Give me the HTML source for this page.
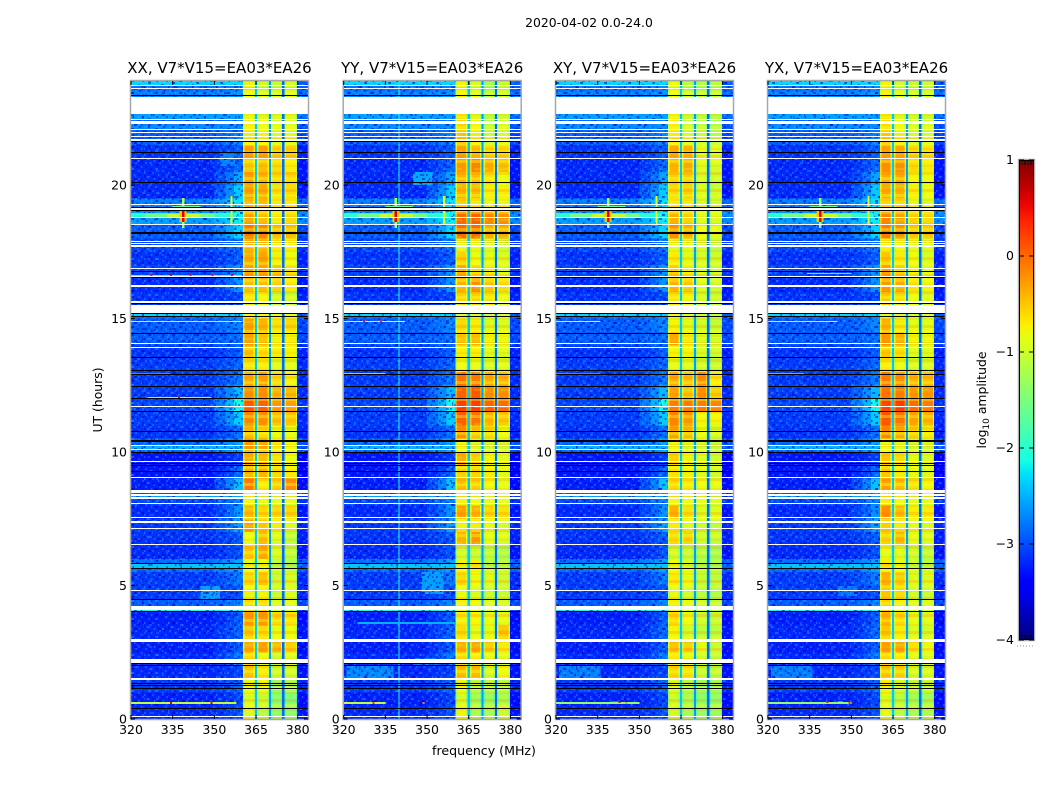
<!DOCTYPE html>
<html lang="en">
<head>
<meta charset="utf-8">
<title>2020-04-02 0.0-24.0</title>
<style>
html,body{margin:0;padding:0;background:#fff;width:1050px;height:800px;overflow:hidden}
svg{display:block}
text{font-family:"DejaVu Sans","Liberation Sans",sans-serif;fill:#000}
</style>
</head>
<body>
<!-- Approximation notes: amplitudes are half-hour averages estimated by eye from the reference.
     Panels share one set of flagged rows, background levels and near-19 h interference marks.
     The speckle and fringe patterns are hand-placed decorative textures, not measured data. -->
<svg id="fig" width="1050" height="800" viewBox="0 0 1050 800" xmlns="http://www.w3.org/2000/svg">
<defs>
<pattern id="speckle" width="24" height="18" patternUnits="userSpaceOnUse">
<g fill="#35b0ff" opacity=".42">
<rect x="1.4" y="0" width="1.4" height="2"/><rect x="7" y="2" width="1.4" height="2"/><rect x="15.4" y="0" width="1.4" height="2"/><rect x="21" y="4" width="1.4" height="2"/><rect x="4.2" y="6" width="1.4" height="2"/><rect x="11.2" y="6" width="2.8" height="2"/><rect x="18.2" y="8" width="1.4" height="2"/><rect x="0" y="10" width="1.4" height="2"/><rect x="8.4" y="10" width="1.4" height="2"/><rect x="14" y="12" width="1.4" height="2"/><rect x="22.4" y="12" width="1.4" height="2"/><rect x="2.8" y="14" width="2.8" height="2"/><rect x="9.8" y="16" width="1.4" height="2"/><rect x="18.2" y="16" width="1.4" height="2"/>
</g>
<g fill="#0000c8" opacity=".6">
<rect x="4.2" y="0" width="1.4" height="2"/><rect x="11.2" y="2" width="2.8" height="2"/><rect x="19.6" y="0" width="1.4" height="2"/><rect x="1.4" y="4" width="1.4" height="2"/><rect x="7" y="6" width="1.4" height="2"/><rect x="16.8" y="4" width="1.4" height="2"/><rect x="22.4" y="8" width="1.4" height="2"/><rect x="4.2" y="10" width="2.8" height="2"/><rect x="12.6" y="8" width="1.4" height="2"/><rect x="18.2" y="12" width="1.4" height="2"/><rect x="0" y="14" width="1.4" height="2"/><rect x="8.4" y="14" width="1.4" height="2"/><rect x="14" y="16" width="2.8" height="2"/><rect x="21" y="16" width="1.4" height="2"/>
</g>
</pattern>
<pattern id="speckle2" width="31" height="22" patternUnits="userSpaceOnUse" patternTransform="translate(5,3)">
<g fill="#0000c8" opacity=".45">
<rect x="2" y="1" width="2.8" height="2"/><rect x="13" y="3" width="1.4" height="4"/><rect x="24" y="1" width="1.4" height="2"/><rect x="7" y="9" width="2.8" height="2"/><rect x="19" y="11" width="2.8" height="2"/><rect x="28" y="7" width="1.4" height="2"/><rect x="1" y="15" width="1.4" height="2"/><rect x="12" y="17" width="4.2" height="2"/><rect x="25" y="18" width="1.4" height="2"/>
</g>
<g fill="#2c9cff" opacity=".38">
<rect x="8" y="3" width="1.4" height="2"/><rect x="20" y="5" width="2.8" height="2"/><rect x="2" y="9" width="1.4" height="2"/><rect x="15" y="13" width="1.4" height="2"/><rect x="27" y="13" width="2.8" height="2"/><rect x="6" y="19" width="1.4" height="2"/>
</g>
</pattern>
<pattern id="fringes" width="26" height="17" patternUnits="userSpaceOnUse">
<rect x="0" y="2" width="26" height="3" fill="#ff6a00" opacity=".2"/>
<rect x="0" y="7" width="26" height="3" fill="#f4ff30" opacity=".38"/>
<rect x="0" y="12" width="26" height="2" fill="#ff8000" opacity=".14"/>
<rect x="6" y="15" width="14" height="2" fill="#b0ff50" opacity=".25"/>
</pattern>
<linearGradient id="jetGrad" x1="0" y1="1" x2="0" y2="0"></linearGradient>
</defs>
<text x="589" y="27" font-size="12.4" text-anchor="middle">2020-04-02 0.0-24.0</text>
<text x="484" y="755" font-size="12.6" text-anchor="middle">frequency (MHz)</text>
<text transform="translate(102,400) rotate(-90)" font-size="12.4" text-anchor="middle">UT (hours)</text>
<g id="panels"></g>
<g id="colorbar"></g>
<text transform="translate(986,400) rotate(-90)" font-size="12.4" text-anchor="middle">log<tspan font-size="9" dy="3">10</tspan><tspan dy="-3"> amplitude</tspan></text>
</svg>
<script>
/* ---- axes ---- */
const freqTicks = [320, 335, 350, 365, 380];
const hourTicks = [0, 5, 10, 15, 20];
const colorTicks = [1, 0, -1, -2, -3, -4];
const titles = ["XX, V7*V15=EA03*EA26", "YY, V7*V15=EA03*EA26", "XY, V7*V15=EA03*EA26", "YX, V7*V15=EA03*EA26"];

/* ---- log10 amplitude of the four receiver bands, one row per half hour from 0 h ---- */
const xxLevels = [
[-.85,-1.1,-1.35,-1.4],[-.9,-1,-1.4,-1.45],[-.8,-.8,-1.3,-1.2],[-.5,-.7,-1,-1],[-.6,-.8,-1,-.9],[-.35,-.3,-.45,-.55],
[-.5,-.6,-.8,-.8],[-.25,-.25,-.6,-.65],[-.6,-.6,-.9,-.9],[-.75,-.75,-1,-.9],[-.6,-.5,-1,-.95],[-.8,-.8,-1.1,-1.2],
[-.5,-.35,-.95,-1.1],[-.8,-.45,-.9,-1.1],[-.3,-.5,-.7,-.9],[-.45,-.6,-.6,-.6],[-.75,-.9,-.9,-.9],[-.1,-.7,-.55,-.2],
[-.4,-.4,-.6,-.7],[-.35,-.45,-.65,-.8],[-.25,-.35,-.7,-.8],[-.45,-.6,-.8,-.85],[-.15,-.2,-.45,-.5],[.1,.05,-.25,-.3],
[-.2,-.2,-.4,-.45],[-.35,-.3,-.6,-.75],[-.65,-.7,-.9,-.9],[-.45,-.6,-.7,-.75],[-.3,-.5,-.75,-.75],[-.3,-.4,-.65,-.6],
[-.75,-.75,-.85,-.85],[-.65,-.75,-1,-1],[-.45,-.45,-.55,-.7],[-.3,-.3,-.5,-.65],[-.35,-.3,-.75,-.8],[-.4,-.45,-.7,-.75],
[-.05,-.15,-.45,-.45],[-.3,-.45,-.7,-.6],[-.45,-.45,-.7,-.7],[-.3,-.35,-.65,-.6],[-.3,-.4,-.6,-.6],[-.5,-.45,-.6,-.7],
[-.3,-.3,-.55,-.55],[-.7,-.75,-.9,-.9],[-.7,-.8,-.9,-.9],[-.8,-.9,-.9,-.9],[-.8,-.9,-.9,-.9],[-.75,-1,-1,-.95]];
const yyLevels = [
[-.75,-1.2,-1.2,-1],[-.95,-1.25,-1.3,-1.2],[-.8,-1.1,-1.1,-1.1],[-.45,-.45,-.95,-.8],[-.6,-.7,-.85,-.9],[-.4,-.35,-.55,-.7],
[-.6,-.85,-.85,-.5],[-.7,-.75,-.85,-.85],[-.7,-.75,-.9,-.95],[-.8,-.9,-1,-1],[-.6,-.8,-.9,-1],[-.75,-.7,-1.1,-1.1],
[-1,-1.05,-1.1,-1.2],[-.4,-.25,-.85,-.9],[-.75,-.7,-.8,-.9],[-.3,-.4,-.6,-.65],[-.7,-.8,-.85,-.9],[-.45,-.55,-.75,-.85],
[-.55,-.55,-.7,-.85],[-.35,-.55,-.75,-.85],[-.8,-.95,-1,-1],[-.2,-.5,-.6,-.8],[.05,-.05,-.4,-.5],[.25,.25,.05,0],
[.05,.1,-.2,-.2],[-.05,-.1,-.35,-.4],[-.8,-.85,-.95,-.9],[-.7,-.7,-.9,-.9],[-.5,-.45,-.75,-.8],[-.6,-.7,-.9,-.9],
[-.95,-1,-1.1,-1],[-.55,-.55,-.65,-.85],[-.4,-.2,-.5,-.6],[-.35,-.6,-.7,-.85],[-.55,-.8,-.85,-.9],[-.85,-.85,-.9,-1],
[0,0,-.35,-.35],[0,.05,-.15,-.2],[-.55,-.7,-.8,-.8],[-.4,-.45,-.7,-.7],[-.4,-.45,-.65,-.8],[-.25,-.15,-.35,-.45],
[-.3,-.45,-.6,-.6],[-.45,-.7,-1,-.85],[-.55,-.75,-1.1,-.95],[-.7,-.9,-1.1,-1],[-.7,-.9,-1.1,-1],[-.75,-.9,-1.2,-1]];
const xyLevels = [
[-.95,-1.2,-1.3,-1.3],[-1,-1.2,-1.35,-1.35],[-.9,-1.1,-1.25,-1.25],[-.6,-.65,-1.05,-1.1],[-.7,-.85,-1,-1.1],[-.5,-.55,-.85,-1],
[-.75,-.95,-1.1,-1.1],[-.6,-.8,-1,-1.05],[-.7,-.8,-1,-1.1],[-.85,-.95,-1.1,-1.15],[-.7,-.8,-1.05,-1.1],[-.8,-.9,-1.15,-1.2],
[-1,-1.05,-1.15,-1.25],[-.6,-.55,-1,-1.05],[-.7,-.85,-1,-1.05],[-.4,-.65,-.9,-.9],[-.75,-.85,-.9,-1],[-.6,-.7,-.8,-.85],
[-.65,-.75,-.9,-1],[-.55,-.75,-.9,-1],[-.8,-.95,-1,-1.1],[-.3,-.45,-.8,-.95],[-.15,-.25,-.75,-.75],[-.1,-.1,-.1,-.15],
[-.3,-.5,-.2,-.55],[-.35,-.45,-.2,-.7],[-.85,-.9,-1,-1.05],[-.75,-.75,-.95,-1],[-.35,-.7,-.9,-.95],[-.75,-.85,-.95,-1.05],
[-.9,-.95,-1.05,-1.15],[-.65,-.75,-1,-1.05],[-.4,-.5,-.9,-1],[-.55,-.7,-.9,-1],[-.7,-.85,-.95,-1],[-.85,-.85,-.95,-1.1],
[-.2,-.35,-.8,-.85],[-.4,-.55,-.9,-.9],[-.7,-.7,-.95,-1],[-.6,-.55,-.9,-1],[-.55,-.55,-.95,-1],[-.4,-.35,-.9,-.95],
[-.35,-.4,-.85,-.9],[-.7,-.9,-1,-1.1],[-.7,-1,-1.1,-1.2],[-.8,-1,-1.1,-1.1],[-.8,-1,-1.1,-1.1],[-.8,-1.1,-1.15,-1.1]];
const yxLevels = [
[-.85,-1.1,-1.2,-1.2],[-.9,-1.1,-1.25,-1.25],[-.75,-.95,-1.05,-1.05],[-.5,-.55,-.95,-.95],[-.6,-.7,-.9,-.95],[-.3,-.35,-.65,-.8],
[-.5,-.7,-.9,-.95],[-.4,-.6,-.85,-.9],[-.55,-.7,-.9,-.95],[-.5,-.6,-.95,-1],[-.4,-.55,-.9,-.9],[-.7,-.8,-1,-1.1],
[-.85,-.9,-1,-1.1],[-.55,-.4,-.85,-.9],[-.55,-.7,-.85,-.9],[-.2,-.45,-.7,-.7],[-.65,-.8,-.9,-.9],[-.3,-.45,-.65,-.75],
[-.5,-.7,-.85,-.9],[-.5,-.6,-.85,-.9],[-.8,-.9,-1,-1],[-.15,-.35,-.55,-.7],[.1,-.05,-.3,-.4],[.2,.25,0,-.1],
[-.05,-.1,-.25,-.25],[-.1,-.2,-.4,-.45],[-.7,-.8,-.95,-.95],[-.5,-.6,-.9,-.9],[-.25,-.4,-.75,-.8],[-.4,-.7,-.85,-.85],
[-.95,-1,-1,-1],[-.5,-.6,-.8,-.9],[-.25,-.35,-.65,-.75],[-.3,-.55,-.75,-.85],[-.5,-.7,-.8,-.9],[-.75,-.8,-.85,-.9],
[-.1,-.2,-.5,-.5],[-.15,-.3,-.55,-.6],[-.6,-.6,-.85,-.9],[-.35,-.4,-.7,-.8],[-.35,-.35,-.75,-.8],[-.2,-.2,-.6,-.7],
[-.3,-.35,-.6,-.65],[-.5,-.7,-.95,-.9],[-.6,-.8,-.95,-.95],[-.7,-.9,-1,-1],[-.7,-.9,-1,-1],[-.75,-.95,-1,-1]];
const panelLevels = [xxLevels, yyLevels, xyLevels, yxLevels];

/* ---- background and band layout (log10 amplitude, MHz) ---- */
const backgroundLevels = [-3.17,-3.22,-3.07,-3.17,-3.17,-3.22,-3.17,-3.22,-2.92,-3.07,-3.07,-2.82,-3.17,-3.12,-3.07,-3.17,-3.02,-3.22,-3.27,-3.27,-2.87,-3.12,-3.07,-3.02,-3.07,-3.07,-3.07,-3.12,-2.92,-2.92,-2.82,-3.12,-3.17,-3.02,-3.12,-3.02,-2.92,-2.6,-2.75,-3.17,-3.17,-3.17,-3.12,-2.92,-2.87,-2.72,-2.72,-2.82];
const shoulderBoost = [.2,.2,.2,.15,.4,.3,.3,.3,.2,.1,.3,.25,.2,.2,.5,.5,.3,.8,.4,.2,.3,.3,.7,.9,.6,.3,.2,.2,.1,.2,.1,.1,.5,.4,.2,.2,.6,.4,.5,.8,.6,.3,.2,.2,.1,.1,.1,.1];
const bandEdges = [[360.3,364.6],[365.4,369.6],[370.4,374.4],[375.2,379.8]];
const gapLevels = [-2.4,-2.6,-2.85];
const freqMin = 320, freqMax = 383.7, hourMax = 23.9, binHours = 0.5;

/* ---- flagged time ranges (hours) ---- */
const whiteRanges = [[23.7,23.75],[23.6,23.63],[22.66,23.3],[22.43,22.47],[22.28,22.42],[22.06,22.1],[21.97,22],[21.82,21.85],[21.61,21.72],[20.96,20.99],[19.27,19.31],[19.06,19.14],[18.75,18.78],[18.52,18.56],[17.88,17.92],[17.81,17.85],[17.68,17.75],[16.84,16.87],[16.54,16.57],[16.2,16.24],[15.6,15.64],[15.21,15.51],[14.04,14.1],[13.91,13.95],[11.7,11.74],[10.21,10.24],[10.06,10.09],[9.61,9.64],[9.01,9.04],[8.46,8.56],[8.37,8.41],[8.26,8.3],[8.05,8.11],[7.53,7.58],[7.36,7.4],[7.1,7.13],[6.5,6.54],[5.81,5.84],[4.81,4.85],[4.08,4.23],[2.94,2.98],[2.87,2.9],[2.1,2.25],[1.46,1.52],[.06,.09]];
const blackHours = [23.34,21.63,21.2,20.07,19.16,19.03,18.2,18.17,16.74,16.52,15.54,15.17,15.06,14.42,13.52,13.03,12.88,12.43,11.99,11.5,10.75,10.41,10.38,9.96,9.55,9.48,9.25,5.79,5.62,4.46,4.01,2.06,1.98,1.31,1.24,1.12,.37];

/* ---- brighter time strips: [hour start, hour end, level] ---- */
const brightStrips = [[5.62,5.79,-2.4],[4.01,4.08,-2.1],[22.47,22.66,-2.6],[22.1,22.28,-2.7],[23.75,23.9,-2.3],[10.09,10.21,-2.5],[8.3,8.37,-2.6],[15.06,15.17,-2.3]];

/* ---- interference near 19 h, shared by all panels: [MHz start, MHz end, hour start, hour end, level] ---- */
const rfiMarks = [
[320,358,18.76,18.95,-2],[325,350,18.8,18.92,-1.55],[333,345,18.8,18.92,-1.05],[337.5,340,18.6,19.1,-.5],
[338.3,339.2,18.4,19.5,-1.2],[338.3,339.2,18.6,19.1,.6],[355.8,356.6,18.5,19.6,-.9],[335,345,19.15,19.2,-1.7]];

/* ---- narrow horizontal lines per panel: [panel, MHz start, MHz end, hour, level] ---- */
const rfiLines = [
[0,320,358,.6,-1.1],[0,320,334,12.95,.1],[0,326,349,12.05,-1.1],[0,320,360,14.9,-1],[0,320,360,16.62,-1.8],
[1,320,335,12.95,-.5],[1,320,342,14.9,-.8],[1,320,335,.6,-1.1],[1,325,360,3.6,-2.5],
[2,320,336,12.95,.1],[2,320,336,14.9,-.9],[2,320,350,.6,-1.4],[2,340,343,.65,.3],
[3,320,333,12.95,-.2],[3,320,345,14.9,-1],[3,320,350,.6,-1.4],[3,345,347,.65,.1],[3,334,350,16.7,-2]];

/* ---- isolated bright dots per panel: [panel, MHz, hour, level] ---- */
const rfiDots = [
[0,334,.6,.6],[0,348.6,.6,.6],[0,327,16.62,.5],[0,334,16.62,.6],[0,341,16.62,.5],[0,349,16.62,.5],[0,356,16.62,.5],[0,337,12.05,.6],
[1,330.3,.6,.3],[1,348.3,.6,-.1],[1,327,14.9,.5],[1,333,14.9,.4],[2,342.5,.65,.6],[2,345,.6,-.2],[3,341,.65,.5],[3,349,.6,.3]];

/* ---- continuous narrow-channel interference: [panel, MHz, level] ---- */
const channelLines = [[1,339.8,-2.1]];

/* ---- broad faint patches per panel: [panel, MHz start, MHz end, hour start, hour end, level] ---- */
const patches = [
[0,345,352,4.5,5,-2.6],[0,352,358,20.7,21.2,-2.75],
[1,348,356,4.7,5.5,-2.6],[1,345,352,20,20.5,-2.55],[1,321,338,1.5,2,-2.7],[1,345,354,2,2.3,-2.8],
[2,321,336,1.5,2,-2.75],[3,321,336,1.5,2,-2.75],[3,345,352,4.6,5,-2.8]];

const panelLeft = [131, 343.7, 556, 768];
const panelWidth = 177, plotTop = 81, plotBottom = 719;

/* ---- helpers ---- */
const NS = "http://www.w3.org/2000/svg";
function jetChannel(t, pts){
  for(let i = 1; i < pts.length; i++){
    if(t <= pts[i][0]){
      const a = pts[i-1], b = pts[i];
      return a[1] + (b[1]-a[1]) * (t-a[0]) / (b[0]-a[0]);
    }
  }
  return pts[pts.length-1][1];
}
const jetR = [[0,0],[.35,0],[.66,1],[.89,1],[1,.5]];
const jetG = [[0,0],[.125,0],[.375,1],[.64,1],[.91,0],[1,0]];
const jetB = [[0,.5],[.11,1],[.34,1],[.65,0],[1,0]];
function colorOf(level){
  const t = Math.max(0, Math.min(1, (level + 4) / 5));
  const ch = p => Math.round(255 * jetChannel(t, p));
  return "rgb(" + ch(jetR) + "," + ch(jetG) + "," + ch(jetB) + ")";
}
function yOf(hour){ return plotBottom - (plotBottom - plotTop) * hour / hourMax; }
function xOf(panel, mhz){ return panelLeft[panel] + panelWidth * (mhz - freqMin) / (freqMax - freqMin); }
function make(tag, attrs, parent){
  const el = document.createElementNS(NS, tag);
  for(const k in attrs) el.setAttribute(k, attrs[k]);
  parent.appendChild(el);
  return el;
}
function cell(parent, x0, x1, y0, y1, fill, name){
  const el = make("rect", {x: x0, y: y0, width: x1 - x0, height: y1 - y0, fill: fill}, parent);
  
  
  return el;
}
function hourRow(parent, x0, x1, h0, h1, fill, name){
  const y1 = Math.round(yOf(h0));
  const y0 = Math.min(Math.round(yOf(h1)), y1 - 1);
  return cell(parent, x0, x1, y0, y1, fill, name);
}

/* ---- panels ---- */
const panelsRoot = document.getElementById("panels");
panelLevels.forEach(function(levels, p){
  const g = make("g", {}, panelsRoot);
  
  
  const marks = make("g", {"shape-rendering": "crispEdges"}, g);
  
  
  const left = panelLeft[p], right = left + panelWidth;

  /* background and bands, bin by bin */
  levels.forEach(function(row, i){
    const y1 = yOf(i * binHours), y0 = Math.max(plotTop, yOf((i + 1) * binHours));
    const bg = backgroundLevels[i];
    cell(marks, left, xOf(p, 350), y0, y1, colorOf(bg), 'background-cell');
    cell(marks, xOf(p, 350), xOf(p, 354), y0, y1, colorOf(bg + shoulderBoost[i] * .3), 'shoulder-cell');
    cell(marks, xOf(p, 354), xOf(p, 357), y0, y1, colorOf(bg + shoulderBoost[i] * .6), 'shoulder-cell');
    cell(marks, xOf(p, 357), xOf(p, 360.3), y0, y1, colorOf(bg + shoulderBoost[i]), 'shoulder-cell');
    cell(marks, xOf(p, 379.8), right, y0, y1, colorOf(bg - .1), 'background-cell');
    bandEdges.forEach(function(edge, b){
      const x0 = xOf(p, edge[0]), x1 = xOf(p, edge[1]);
      cell(marks, x0, x1, y0, y1, colorOf(row[b] - .4), 'band-rim-cell');
      cell(marks, x0 + 1.4, x1 - 1.4, y0, y1, colorOf(row[b]), 'band-cell');
      if(b < 3){
        cell(marks, x1, xOf(p, bandEdges[b + 1][0]), y0, y1, colorOf(gapLevels[b]), 'band-gap-cell');
      }
    });
  });

  /* strips and patches */
  brightStrips.forEach(function(s){
    hourRow(marks, left, xOf(p, 360.3), s[0], s[1], colorOf(s[2]), 'bright-strip');
  });
  patches.filter(function(r){ return r[0] === p; }).forEach(function(r){
    hourRow(marks, xOf(p, r[1]), xOf(p, r[2]), r[3], r[4], colorOf(r[5]), 'faint-patch');
  });

  /* textures */
  cell(marks, left, xOf(p, 360.3), plotTop, plotBottom, 'url(#speckle)', 'background-noise');
  cell(marks, left, xOf(p, 360.3), plotTop, plotBottom, 'url(#speckle2)', 'background-noise');
  cell(marks, xOf(p, 379.8), right, plotTop, plotBottom, 'url(#speckle)', 'background-noise');
  bandEdges.forEach(function(edge){
    cell(marks, xOf(p, edge[0]), xOf(p, edge[1]), plotTop, plotBottom, 'url(#fringes)', 'band-fringes');
  });

  /* interference */
  channelLines.filter(function(c){ return c[0] === p; }).forEach(function(c){
    cell(marks, xOf(p, c[1]), xOf(p, c[1]) + 1, plotTop, plotBottom, colorOf(c[2]), 'channel-line');
  });
  rfiMarks.forEach(function(m){
    hourRow(marks, xOf(p, m[0]), xOf(p, m[1]), m[2], m[3], colorOf(m[4]), 'rfi-mark');
  });
  rfiLines.filter(function(l){ return l[0] === p; }).forEach(function(l){
    hourRow(marks, xOf(p, l[1]), xOf(p, l[2]), l[3] - .025, l[3] + .025, colorOf(l[4]), 'rfi-line');
  });
  rfiDots.filter(function(d){ return d[0] === p; }).forEach(function(d){
    const xd = xOf(p, d[1]);
    hourRow(marks, xd, xd + 2, d[2] - .04, d[2] + .04, colorOf(d[3]), 'rfi-dot');
  });

  /* flagged data */
  whiteRanges.forEach(function(r){
    hourRow(marks, left, right, r[0], r[1], '#fff', 'flagged-row');
  });
  blackHours.forEach(function(h){
    hourRow(marks, left, right, h, h, '#000', 'dropout-row');
  });

  /* frame */
  const frame = make("rect", {x: left - .5, y: plotTop - .5, width: panelWidth + 1, height: plotBottom - plotTop + 1, fill: "none", stroke: "#a8a8a8", "stroke-width": 1.5}, g);
  
  

  /* x ticks and labels */
  freqTicks.forEach(function(f){
    const x = xOf(p, f);
    const t1 = make("line", {x1: x, x2: x, y1: plotBottom, y2: plotBottom - 4, stroke: "#000"}, g);
    
    
    const t2 = make("line", {x1: x, x2: x, y1: plotTop, y2: plotTop + 4, stroke: "#000"}, g);
    
    
    const lab = make("text", {x: x, y: 734, "font-size": 12.5, "text-anchor": "middle"}, g);
    
    
    lab.textContent = f;
  });

  /* y ticks and labels */
  hourTicks.forEach(function(h){
    const y = yOf(h);
    const t1 = make("line", {x1: left, x2: left + 4, y1: y, y2: y, stroke: "#000"}, g);
    
    
    const t2 = make("line", {x1: right, x2: right - 4, y1: y, y2: y, stroke: "#000"}, g);
    
    
    const lab = make("text", {x: left - 4, y: y + 4.5, "font-size": 12.5, "text-anchor": "end"}, g);
    
    
    lab.textContent = h;
  });

  const title = make("text", {x: left + panelWidth / 2, y: 73, "font-size": 15, "text-anchor": "middle"}, g);
  
  
  title.textContent = titles[p];
});

/* ---- colorbar ---- */
const barLeft = 1019, barRight = 1034, barTop = 160, barBottom = 640;
const barMin = -4, barMax = 1;
function barY(v){ return barBottom - (barBottom - barTop) * (v - barMin) / (barMax - barMin); }
const grad = document.getElementById("jetGrad");
for(let i = 0; i <= 32; i++){
  const v = barMin + (barMax - barMin) * i / 32;
  make("stop", {offset: (i / 32 * 100) + "%", "stop-color": colorOf(v)}, grad);
}
const cb = document.getElementById("colorbar");
cell(cb, barLeft, barRight, barTop, barBottom, 'url(#jetGrad)', 'colorbar-gradient');
const cbOuter = make("rect", {x: barLeft - .5, y: barTop - .5, width: barRight - barLeft + 1, height: barBottom - barTop + 1, fill: "none", stroke: "#b0b0b0", "stroke-width": 1.5}, cb);


const cbInner = make("rect", {x: barLeft + .5, y: barTop + .5, width: barRight - barLeft - 1, height: barBottom - barTop - 1, fill: "none", stroke: "#000", "stroke-width": 1}, cb);


colorTicks.forEach(function(v){
  const y = barY(v);
  const t1 = make("line", {x1: barLeft, x2: barLeft + 5, y1: y, y2: y, stroke: "#000"}, cb);
  
  
  const t2 = make("line", {x1: barRight, x2: barRight - 5, y1: y, y2: y, stroke: "#000"}, cb);
  
  
  const lab = make("text", {x: barLeft - 5, y: y + 4, "font-size": 12.5, "text-anchor": "end"}, cb);
  
  
  lab.textContent = (v < 0 ? "\u2212" + (-v) : v);
});
[barTop, barBottom].forEach(function(y, side){
  const dir = side ? -1 : 1;
  const minor = make("path", {d: "M1022 " + y + "v" + 5*dir + "M1025 " + y + "v" + 5*dir + "M1028 " + y + "v" + 5*dir + "M1031 " + y + "v" + 5*dir, stroke: "#000", fill: "none"}, cb);
  
  
});
const dots = make("line", {x1: 1017, x2: 1035, y1: 646, y2: 646, stroke: "#999", "stroke-dasharray": "1 2"}, cb);


</script>
</body>
</html>
